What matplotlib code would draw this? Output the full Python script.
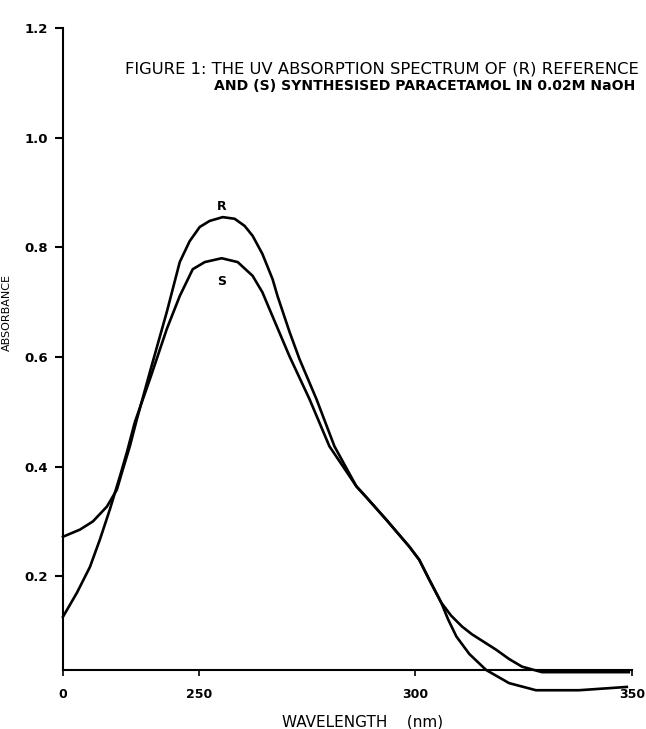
import matplotlib
matplotlib.use("Agg")
import matplotlib.pyplot as plt

# wavelength (nm) and absorbance
# (R) reference paracetamol
r_wl = [218.66, 222.58, 225.58, 228.80, 231.11, 232.26, 234.10, 235.71, 238.71,
        242.63, 245.62, 247.9, 250.23, 252.5, 255.53, 258.3, 260.6, 262.44,
        264.7, 267.05, 268.2, 271.0, 273.27, 277.19, 281.34, 286.40, 288.71,
        293.32, 298.62, 300.92, 303.22, 305.99, 308.29, 310.83, 313.1,
        318.66, 321.66, 324.65, 329.26, 349.31]
r_abs = [0.272, 0.285, 0.300, 0.327, 0.358, 0.389, 0.437, 0.486, 0.572,
         0.682, 0.773, 0.811, 0.837, 0.848, 0.855, 0.852, 0.839, 0.821,
         0.788, 0.742, 0.711, 0.645, 0.596, 0.523, 0.437, 0.364, 0.344,
         0.303, 0.254, 0.230, 0.194, 0.152, 0.128, 0.108, 0.094,
         0.066, 0.049, 0.035, 0.025, 0.025]

# (S) synthesised paracetamol
s_wl = [218.66, 221.89, 224.89, 227.19, 229.49, 231.80, 233.41, 235.25, 238.71,
        242.63, 245.62, 248.62, 251.4, 255.30, 259.0, 262.44, 264.7, 267.05,
        270.97, 275.58, 280.18, 286.40, 288.71, 293.32, 298.62, 300.92,
        303.22, 305.99, 307.6, 309.5, 312.5, 316.36, 321.66, 327.88, 337.79, 348.85]
s_abs = [0.126, 0.170, 0.217, 0.267, 0.322, 0.382, 0.426, 0.481, 0.559,
         0.651, 0.711, 0.760, 0.773, 0.780, 0.773, 0.748, 0.718, 0.674,
         0.601, 0.523, 0.437, 0.364, 0.344, 0.303, 0.254, 0.230,
         0.194, 0.152, 0.121, 0.090, 0.058, 0.029, 0.005, -0.008, -0.008, -0.002]

x_ticks = [218.66, 250, 300, 350]
x_labels = ["0", "250", "300", "350"]
y_ticks = [0.2, 0.4, 0.6, 0.8, 1.0, 1.2]
y_labels = ["0.2", "0.4", "0.6", "0.8", "1.0", "1.2"]

fig = plt.figure(figsize=(6.46, 7.29), dpi=100)
ax = fig.add_axes([0.0975, 0.081, 0.8805, 0.8806])

ax.plot(r_wl, r_abs, color="black", lw=1.9, clip_on=False, solid_joinstyle="round")
ax.plot(s_wl, s_abs, color="black", lw=1.9, clip_on=False, solid_joinstyle="round")

ax.set_xlim(218.66, 350)
ax.set_ylim(0.029, 1.2)

ax.spines["top"].set_visible(False)
ax.spines["right"].set_visible(False)
ax.spines["left"].set_linewidth(1.5)
ax.spines["bottom"].set_linewidth(1.5)

ax.set_xticks(x_ticks)
ax.set_xticklabels(x_labels, fontsize=9, fontweight="bold")
ax.set_yticks(y_ticks)
ax.set_yticklabels(y_labels, fontsize=9.5, fontweight="bold")
ax.tick_params(axis="y", length=6, width=1.5, pad=5)
ax.tick_params(axis="x", length=4, width=1.2, pad=9)

# curve labels
ax.text(255.3, 0.874, "R", ha="center", va="center", fontsize=9, fontweight="bold")
ax.text(255.3, 0.737, "S", ha="center", va="center", fontsize=9, fontweight="bold")

# caption
fig.text(125 / 646, 1 - 69.5 / 729, "FIGURE 1: THE UV ABSORPTION SPECTRUM OF (R) REFERENCE",
         ha="left", va="center", fontsize=11.8)
fig.text(214 / 646, 1 - 86.5 / 729, "AND (S) SYNTHESISED PARACETAMOL IN 0.02M NaOH",
         ha="left", va="center", fontsize=10.1, fontweight="bold")

fig.text(363 / 646, 1 - 722 / 729, "WAVELENGTH    (nm)", ha="center", va="center",
         fontsize=11)
fig.text(7 / 646, 1 - 312 / 729, "ABSORBANCE", rotation=90, ha="center", va="center",
         fontsize=8)

fig.savefig("out.png", dpi=100, facecolor="white")
